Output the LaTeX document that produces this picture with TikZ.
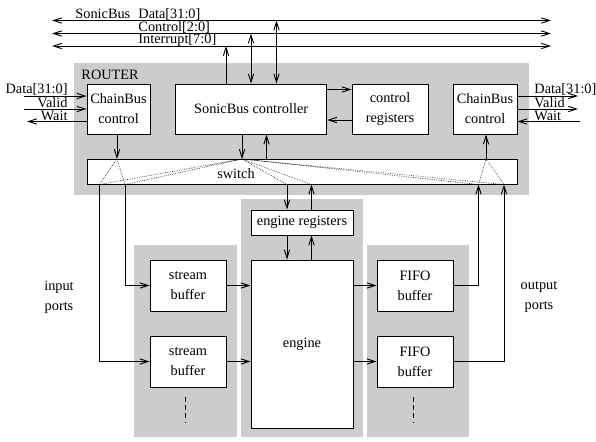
\documentclass[tikz,border=0pt]{standalone}
\usepackage{fontspec}
\setmainfont{Liberation Serif}
\usetikzlibrary{arrows.meta}
\definecolor{panelgray}{RGB}{204,204,204}

\begin{document}
\begin{tikzpicture}[x=0.03cm,y=-0.03cm,line width=0.8pt,
    >={Straight Barb[length=7pt,width=4.5pt]},
    font=\fontsize{12.2}{17}\selectfont,
    blk/.style={draw,fill=white,inner sep=0pt,align=center},
    lbl/.style={inner sep=0pt},
    fan/.style={densely dotted,line width=0.5pt}]
  \useasboundingbox (0,0) rectangle (596,441);
  % grey areas
  \fill[panelgray] (74,63) rectangle (529,195);
  \fill[panelgray] (134,245) rectangle (237,437);
  \fill[panelgray] (241,199) rectangle (363,437);
  \fill[panelgray] (367,245) rectangle (469,437);
  \node[lbl,anchor=base west] (rt) at (81,79) {ROUTER};
  % router blocks
  \node[blk,minimum width=1.89cm,minimum height=1.5cm] (cbl) at (118.5,109) {ChainBus\\control};
  \node[blk,minimum width=4.53cm,minimum height=1.5cm] (sbc) at (251.2,109) {SonicBus controller};
  \node[blk,minimum width=2.28cm,minimum height=1.5cm] (creg) at (390,109) {control\\registers};
  \node[blk,minimum width=1.92cm,minimum height=1.5cm] (cbr) at (485,109) {ChainBus\\control};
  \node[blk,minimum width=12.9cm,minimum height=0.765cm] (sw) at (302,171.75) {};
  \node[lbl] (swl) at (236,174) {switch};
  % engine side
  \node[blk,minimum width=3.06cm,minimum height=0.75cm] (ereg) at (302,222.5) {engine registers};
  \node[blk,minimum width=3.06cm,minimum height=5.04cm] (eng) at (302,344) {engine};
  \node[blk,minimum width=2.28cm,minimum height=1.53cm] (sb1) at (188,285.5) {stream\\buffer};
  \node[blk,minimum width=2.28cm,minimum height=1.53cm] (sb2) at (188,361.5) {stream\\buffer};
  \node[blk,minimum width=2.28cm,minimum height=1.53cm] (ff1) at (415,285.5) {FIFO\\buffer};
  \node[blk,minimum width=2.28cm,minimum height=1.53cm] (ff2) at (415,361.5) {FIFO\\buffer};
  \node[lbl,align=center] (inp) at (59,297) {input\\ports};
  \node[lbl,align=center] (outp) at (539,297) {output\\ports};
  % SonicBus lines
  \coordinate (dL) at (52,20.5); \coordinate (dR) at (551,20.5);
  \coordinate (cL) at (52,33.5); \coordinate (cR) at (551,33.5);
  \coordinate (iL) at (52,46); \coordinate (iR) at (551,46);
  \draw[<->] (dL) -- (dR);
  \draw[<->] (cL) -- (cR);
  \draw[<->] (iL) -- (iR);
  \node[lbl,anchor=base west] (sbl) at (75,18) {SonicBus};
  \node[lbl,anchor=base west] (dl) at (138,18) {Data[31:0]};
  \node[lbl,anchor=base west] (cl) at (138,31) {Control[2:0]};
  \node[lbl,anchor=base west] (il) at (138,43.5) {Interrupt[7:0]};
  % controller to bus
  \coordinate (i1) at (226,46);
  \coordinate (c1) at (251,33.5);
  \coordinate (d1) at (276.5,20.5);
  \draw[->] (sbc.north -| i1) -- (i1);
  \draw[<->] (c1) -- (sbc.north -| c1);
  \draw[<->] (d1) -- (sbc.north -| d1);
  % controller and registers
  \draw[->] ([yshift=0.585cm]sbc.east) -- ([yshift=0.585cm]creg.west);
  \draw[->] ([yshift=-0.33cm]creg.west) -- ([yshift=-0.33cm]sbc.east);
  % ChainBus signals, left
  \coordinate (ld) at (24,96); \coordinate (lv) at (24,109); \coordinate (lw) at (27,121.5);
  \draw[->] (ld) -- (ld -| cbl.west);
  \draw[->] (lv) -- (lv -| cbl.west);
  \draw[->] (lw -| cbl.west) -- (lw);
  \node[lbl,anchor=base east] at (68,93.5) {Data[31:0]};
  \node[lbl,anchor=base east] at (68,107.5) {Valid};
  \node[lbl,anchor=base east] at (68,120) {Wait};
  % ChainBus signals, right
  \coordinate (rd) at (578,96); \coordinate (rv) at (578,109); \coordinate (rw) at (580,121.5);
  \draw[->] (rd -| cbr.east) -- (rd);
  \draw[->] (rv -| cbr.east) -- (rv);
  \draw[->] (rw) -- (rw -| cbr.east);
  \node[lbl,anchor=base west] at (534,93.5) {Data[31:0]};
  \node[lbl,anchor=base west] at (534,107.5) {Valid};
  \node[lbl,anchor=base west] at (534,120) {Wait};
  % switch ports
  \coordinate (t1) at (117,159); \coordinate (t2) at (242,159);
  \coordinate (t3) at (266.5,159); \coordinate (t4) at (486,159);
  \coordinate (b1) at (99.5,184.5); \coordinate (b2) at (125,184.5);
  \coordinate (b3) at (287,184.5); \coordinate (b4) at (311.5,184.5);
  \coordinate (b5) at (478.5,184.5); \coordinate (b6) at (504,184.5);
  \draw[->] (cbl.south -| t1) -- (t1);
  \draw[->] (sbc.south -| t2) -- (t2);
  \draw[->] (t3) -- (sbc.south -| t3);
  \draw[->] (t4) -- (cbr.south -| t4);
  % connections inside the switch
  \draw[fan] (b1) -- (t1) -- (b2);
  \draw[fan] (b1) -- (t2) -- (b2);
  \draw[fan] (b3) -- (t2) -- (b4);
  \draw[fan] (b5) -- (t2) -- (b6);
  \draw[fan] (b5) -- (t4) -- (b6);
  % input and output ports
  \draw[->] (b1) |- (sb2);
  \draw[->] (b2) |- (sb1);
  \draw[->] (ff1) -| (b5);
  \draw[->] (ff2) -| (b6);
  % engine registers
  \draw[->] (b3) -- (ereg.north -| b3);
  \draw[->] (ereg.north -| b4) -- (b4);
  \draw[->] (ereg.south -| b3) -- (eng.north -| b3);
  \draw[->] (eng.north -| b4) -- (ereg.south -| b4);
  % buffers and engine
  \draw[->] (sb1.east) -- (sb1.east -| eng.west);
  \draw[->] (sb2.east) -- (sb2.east -| eng.west);
  \draw[->] (ff1.west -| eng.east) -- (ff1.west);
  \draw[->] (ff2.west -| eng.east) -- (ff2.west);
  % more buffers
  \draw[dash pattern=on 4pt off 3pt] (185,397) -- (185,422);
  \draw[dash pattern=on 4pt off 3pt] (413,397) -- (413,422);
\end{tikzpicture}
\end{document}
